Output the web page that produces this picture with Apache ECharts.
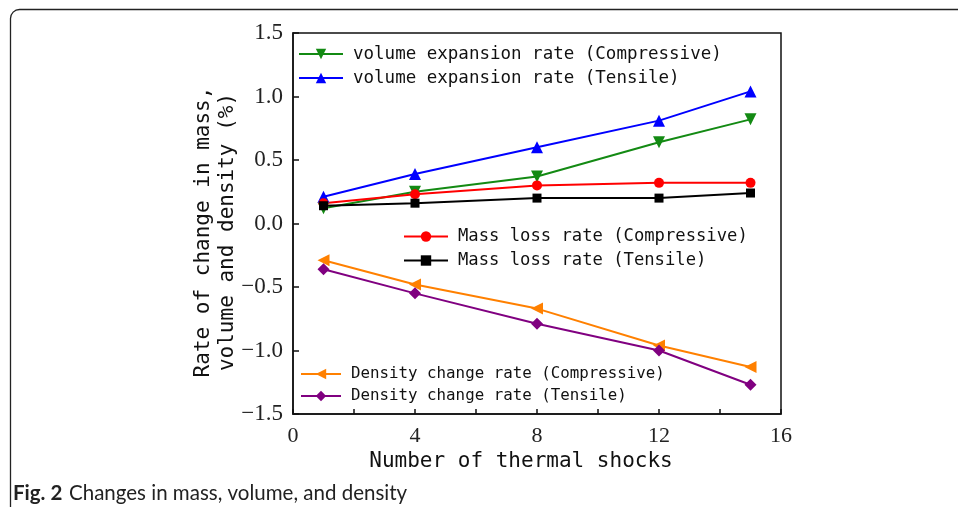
<!DOCTYPE html>
<html>
<head>
<meta charset="utf-8">
<script src="https://cdn.jsdelivr.net/npm/echarts@6/dist/echarts.min.js"></script>
<style>
  html, body { margin: 0; padding: 0; background: #fff; }
  #chart { width: 958px; height: 507px; }
</style>
</head>
<body>
<div id="chart"></div>
<script>
// Number of thermal shocks at which each specimen set was measured
const shocks = [1, 4, 8, 12, 15];

// Rate of change (%) per series
const volumeCompressive = [0.12, 0.25, 0.37, 0.64, 0.82];
const volumeTensile = [0.21, 0.39, 0.60, 0.81, 1.04];
const massCompressive = [0.16, 0.23, 0.30, 0.32, 0.32];
const massTensile = [0.14, 0.16, 0.20, 0.20, 0.24];
const densityCompressive = [-0.29, -0.48, -0.67, -0.96, -1.13];
const densityTensile = [-0.36, -0.55, -0.79, -1.00, -1.27];

const seriesNames = [
  'volume expansion rate (Compressive)',
  'volume expansion rate (Tensile)',
  'Mass loss rate (Compressive)',
  'Mass loss rate (Tensile)',
  'Density change rate (Compressive)',
  'Density change rate (Tensile)'
];

const xTitle = 'Number of thermal shocks';
const yTitle = ['Rate of change in mass,', 'volume and density (%)'];
const captionLabel = 'Fig. 2';
const captionText = 'Changes in mass, volume, and density';

const pairs = (ys) => shocks.map((x, i) => [x, ys[i]]);

const chart = echarts.init(document.getElementById('chart'), null, { renderer: 'canvas' });

const monoFont = '"DejaVu Sans Mono", "Liberation Mono", monospace';
const serifFont = '"Liberation Serif", "DejaVu Serif", serif';

function line(name, data, color, symbol, size, rotate) {
  return {
    name: name,
    type: 'line',
    data: pairs(data),
    symbol: symbol,
    symbolSize: size,
    symbolRotate: rotate || 0,
    showSymbol: true,
    lineStyle: { color: color, width: 2 },
    itemStyle: { color: color },
    emphasis: { disabled: true },
    z: 3
  };
}

function legendBlock(left, top, names, fontSize, gap, width) {
  return {
    orient: 'vertical',
    left: left,
    top: top,
    padding: 0,
    itemWidth: width,
    itemHeight: 13,
    itemGap: gap,
    selectedMode: false,
    data: names,
    textStyle: { fontFamily: monoFont, fontSize: fontSize, color: '#111', padding: [0, 0, 0, 5] }
  };
}

const option = {
  animation: false,
  backgroundColor: '#fff',
  grid: {
    left: 293, right: 177, top: 33, bottom: 93,
    show: true, borderColor: '#111', borderWidth: 1.5, backgroundColor: 'transparent'
  },
  legend: [
    legendBlock(298, 45, [seriesNames[0], seriesNames[1]], 17.5, 6, 44),
    legendBlock(403, 228, [seriesNames[2], seriesNames[3]], 17.2, 7, 44),
    legendBlock(300, 366, [seriesNames[4], seriesNames[5]], 15.8, 6, 40)
  ],
  xAxis: {
    type: 'value',
    min: 0, max: 16, interval: 4,
    axisLine: { show: true, onZero: false, lineStyle: { color: '#111', width: 1.5 } },
    axisTick: { show: true, inside: true, length: 5, lineStyle: { color: '#111', width: 1.5 } },
    minorTick: { show: true, splitNumber: 2, length: 5, lineStyle: { color: '#111', width: 1.5 } },
    splitLine: { show: false },
    axisLabel: { fontFamily: serifFont, fontSize: 22, color: '#222', margin: 11 }
  },
  yAxis: {
    type: 'value',
    min: -1.5, max: 1.5, interval: 0.5,
    axisLine: { show: true, onZero: false, lineStyle: { color: '#111', width: 1.5 } },
    axisTick: { show: true, inside: true, length: 6, lineStyle: { color: '#111', width: 1.5 } },
    splitLine: { show: false },
    axisLabel: {
      fontFamily: serifFont, fontSize: 23, color: '#222', margin: 10,
      formatter: (v) => (v < 0 ? '\u2212' : '') + Math.abs(v).toFixed(1)
    }
  },
  series: [
    line(seriesNames[0], volumeCompressive, '#138a13', 'triangle', 12, 180),
    line(seriesNames[1], volumeTensile, '#0000ff', 'triangle', 12, 0),
    line(seriesNames[2], massCompressive, '#ff0000', 'circle', 10, 0),
    line(seriesNames[3], massTensile, '#000000', 'rect', 9, 0),
    line(seriesNames[4], densityCompressive, '#ff8000', 'triangle', 12, 90),
    line(seriesNames[5], densityTensile, '#800080', 'diamond', 12, 0)
  ],
  graphic: [
    {
      type: 'rect',
      shape: { x: 10.5, y: 9.5, width: 1000, height: 600, r: 9 },
      style: { fill: 'none', stroke: '#222', lineWidth: 1.3 },
      silent: true, z: -1
    },
    {
      type: 'text',
      x: 216, y: 232,
      rotation: Math.PI / 2,
      style: {
        text: yTitle.join('\n'),
        fontFamily: monoFont, fontSize: 21, lineHeight: 24,
        fill: '#111', align: 'center', verticalAlign: 'middle'
      }
    },
    {
      type: 'text',
      x: 521, y: 462,
      style: {
        text: xTitle,
        fontFamily: monoFont, fontSize: 21,
        fill: '#111', align: 'center', verticalAlign: 'middle'
      }
    },
    {
      type: 'text',
      x: 13, y: 493,
      style: {
        text: '{b|' + captionLabel + '}  {n|' + captionText + '}',
        verticalAlign: 'middle', align: 'left',
        rich: {
          b: { fontFamily: 'Lato, "Open Sans", sans-serif', fontWeight: 'bold', fontSize: 20.5, fill: '#222' },
          n: { fontFamily: 'Lato, "Open Sans", sans-serif', fontSize: 20.5, fill: '#222' }
        }
      }
    }
  ]
};

chart.setOption(option);
</script>
</body>
</html>
